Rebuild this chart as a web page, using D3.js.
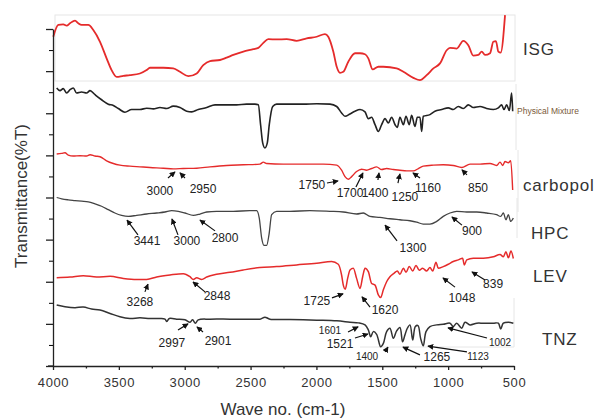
<!DOCTYPE html>
<html>
<head>
<meta charset="utf-8">
<script src="https://cdn.jsdelivr.net/npm/d3@7/dist/d3.min.js"></script>
<style>
  body { margin: 0; background: #fff; }
  svg { display: block; font-family: "Liberation Sans", Arial, sans-serif; }
</style>
</head>
<body>
<svg id="chart" width="595" height="418"></svg>
<script>
// ---- data: wavenumber (cm-1) and transmittance (arbitrary, stacked) ----
var isgWave = [3998,3960,3922,3896,3871,3833,3808,3783,3732,3694,3643,3593,3555,3517,3466,3416,3340,3289,3264,3162,3087,3036,2973,2909,2859,2808,2732,2682,2631,2555,2479,2441,2403,2365,2302,2226,2150,2074,1998,1935,1910,1872,1846,1821,1796,1758,1707,1669,1631,1606,1573,1530,1492,1391,1340,1264,1214,1163,1112,1062,1011,986,935,885,847,809,771,745,720,682,657,637,619,601,568];
var isgT    = [97.7,101.2,101.4,101.0,101.7,102.5,101.7,101.2,101.2,99.7,96.2,91.3,87.8,85.8,86.1,86.3,86.8,87.8,88.5,88.5,88.3,87.3,86.0,86.8,89.3,90.5,90.8,91.5,92.3,93.3,94.0,94.4,95.9,97.0,96.9,97.0,96.5,97.2,97.7,98.5,97.7,93.3,88.8,87.0,87.3,90.3,92.8,92.8,92.5,91.3,88.0,88.8,88.8,88.3,87.3,85.5,84.8,86.3,88.3,89.8,93.7,94.4,94.2,96.5,95.2,92.1,92.3,93.3,92.3,92.8,96.2,96.4,93.3,93.0,104.1];

var pmWave = [3972,3947,3922,3896,3871,3846,3821,3783,3745,3719,3681,3631,3580,3542,3504,3454,3403,3340,3289,3238,3188,3137,3087,3036,2985,2947,2897,2833,2770,2682,2606,2530,2467,2441,2424,2408,2391,2373,2358,2332,2302,2201,2100,1998,1897,1846,1809,1783,1745,1707,1669,1631,1606,1581,1555,1530,1505,1479,1454,1429,1403,1386,1366,1340,1320,1295,1277,1252,1234,1214,1201,1189,1138,1100,1049,999,961,923,885,847,809,758,708,657,619,594,576,556,535,518,510];
var pmT    = [82.5,81.7,82.3,81.0,82.0,82.5,81.0,81.3,81.0,81.7,80.5,79.0,77.7,77.3,76.4,75.3,76.1,76.1,76.5,76.3,76.7,76.4,77.1,76.7,75.6,75.4,76.1,76.7,77.5,77.5,77.5,77.7,77.7,77.5,71.6,66.2,64.7,66.2,71.6,77.0,77.7,77.7,77.7,77.8,77.7,77.0,75.1,74.1,74.8,75.6,76.1,75.4,73.4,73.8,71.6,69.6,71.6,73.4,72.1,73.8,71.6,70.8,73.8,71.6,74.1,71.6,74.4,71.1,73.8,73.8,69.6,74.1,74.6,75.6,76.1,76.6,76.1,77.0,76.4,77.5,76.7,77.0,76.4,76.1,76.6,77.5,76.1,77.5,75.8,81.0,75.6];

var carbWave = [3972,3934,3909,3884,3846,3795,3745,3719,3681,3643,3593,3542,3492,3416,3340,3264,3162,3087,3011,2909,2808,2682,2555,2429,2403,2378,2251,2100,1948,1846,1809,1783,1758,1733,1695,1657,1619,1581,1543,1505,1467,1416,1366,1315,1264,1226,1189,1112,1037,961,897,834,758,682,632,606,586,568,543,525,510];
var carbT    = [62.9,63.1,63.3,62.6,62.3,62.4,62.3,62.7,62.3,62.1,60.9,60.1,59.6,59.3,59.1,58.9,58.7,58.5,58.6,58.7,59.1,59.5,59.7,59.9,60.5,60.1,59.9,59.9,59.9,59.6,58.1,56.2,55.4,56.2,57.7,58.4,58.1,58.6,59.1,58.3,58.6,58.3,58.1,57.9,57.9,58.6,59.3,59.6,59.7,59.5,58.9,59.9,59.9,60.1,59.5,60.5,59.5,60.7,60.3,60.9,52.2];

var hpcWave = [3972,3934,3884,3833,3783,3732,3681,3631,3580,3530,3479,3428,3365,3289,3213,3150,3099,3049,2998,2935,2884,2833,2758,2631,2505,2454,2434,2416,2398,2378,2360,2340,2302,2201,2049,1897,1796,1695,1644,1594,1518,1442,1366,1290,1239,1189,1138,1087,1037,986,935,859,783,708,632,601,581,561,543,525,505];
var hpcT    = [50.0,49.6,49.3,49.1,48.9,48.7,48.1,47.4,46.4,45.4,44.7,44.4,44.7,45.1,45.4,45.7,46.1,45.9,45.4,44.7,45.1,45.7,45.9,45.9,46.1,46.1,43.9,38.0,35.8,35.8,39.0,44.9,45.9,45.9,46.1,45.9,45.7,45.1,45.4,44.4,44.1,43.7,43.4,43.1,42.7,42.1,42.1,42.9,44.4,45.4,45.9,45.7,45.7,45.4,44.9,44.4,45.4,43.4,44.9,42.9,43.9];

var levWave = [3972,3871,3770,3669,3567,3466,3365,3289,3213,3112,3011,2960,2935,2909,2871,2833,2758,2656,2555,2429,2302,2150,1998,1884,1834,1809,1796,1781,1763,1745,1720,1695,1669,1649,1631,1606,1581,1555,1530,1512,1492,1467,1442,1411,1386,1366,1340,1320,1295,1269,1244,1219,1194,1163,1138,1117,1092,1075,1037,999,961,923,890,877,859,809,733,657,606,581,561,543,523,505];
var levT    = [26.2,26.4,26.8,26.4,26.6,26.0,25.7,25.7,26.4,27.0,27.4,26.5,25.7,26.2,25.7,26.4,27.2,27.8,28.5,29.2,29.5,30.0,30.5,31.0,30.2,27.0,24.0,22.8,26.0,28.5,29.0,26.0,23.0,26.5,29.0,28.0,24.5,24.0,21.1,20.3,22.6,25.0,26.5,27.5,28.2,27.2,29.0,27.8,29.5,28.2,29.8,28.4,29.0,28.2,29.2,28.2,30.8,29.0,29.5,30.2,31.0,31.5,32.0,30.0,31.5,32.0,32.0,32.4,33.1,32.4,33.9,32.1,34.1,31.9];

var tnzWave = [3972,3909,3833,3770,3707,3643,3567,3492,3416,3340,3264,3188,3150,3137,3117,3061,2998,2960,2940,2919,2897,2808,2656,2505,2429,2391,2353,2201,1998,1846,1745,1682,1631,1606,1588,1568,1543,1512,1492,1467,1442,1416,1391,1366,1346,1328,1310,1290,1269,1249,1229,1209,1189,1168,1138,1087,1037,986,961,935,897,872,834,783,733,657,619,601,581,543,505];
var tnzT    = [18.1,17.6,17.3,17.5,16.9,16.6,15.6,14.6,14.1,14.3,14.1,14.1,13.9,13.2,14.1,13.9,13.7,13.0,13.7,12.7,13.7,13.9,13.9,13.9,13.9,14.5,13.9,13.8,13.6,13.4,13.0,12.8,12.2,10.7,8.7,10.2,9.4,5.7,6.7,10.2,11.2,8.2,10.4,11.4,7.2,9.2,11.2,12.2,7.7,11.7,12.0,8.2,6.0,10.2,11.7,12.2,12.4,12.7,11.7,12.7,11.2,13.0,12.2,12.7,12.7,12.7,12.7,11.0,12.7,13.0,12.7];

var seriesNames = ["ISG", "Physical Mixture", "carbopol", "HPC", "LEV", "TNZ"];

// peak labels: [text, label wave, label T, tail wave, tail T, tip wave, tip T]
var carbPeaks = [
  ["3000", 3188, 51.9, 3127, 55.8, 3074, 57.6],
  ["2950", 2861, 52.5, 2998, 55.8, 3036, 57.3],
  ["1750", 2034, 53.7, 1920, 54.3, 1836, 54.9],
  ["1700", 1745, 51.3, 1700, 53.1, 1647, 57.3],
  ["1400", 1555, 51.3, 1533, 55.2, 1525, 57.3],
  ["1250", 1328, 50.1, 1381, 54.3, 1366, 57.0],
  ["1160", 1153, 52.8, 1214, 55.8, 1267, 57.3],
  ["850",  773, 52.8,  857, 56.7,  895, 58.2]
];
var hpcPeaks = [
  ["3441", 3286, 37.1, 3355, 38.9, 3438, 43.3],
  ["3000", 2983, 37.1, 3051, 38.9, 3097, 43.6],
  ["2800", 2694, 38.0, 2770, 40.1, 2884, 43.3],
  ["1300", 1267, 35.0, 1388, 37.1, 1479, 41.8],
  ["900",   819, 40.1,  895, 41.8,  971, 44.2]
];
var levPeaks = [
  ["3268", 3340, 19.0, 3302, 22.0, 3279, 24.3],
  ["2848", 2755, 20.8, 2846, 22.0, 2937, 24.9],
  ["1725", 1996, 19.3, 1882, 20.2, 1798, 21.4],
  ["1620", 1479, 16.6, 1593, 17.5, 1654, 20.5],
  ["1048",  895, 20.2,  948, 23.4, 1039, 26.1],
  ["839",   659, 24.3,  720, 25.5,  819, 27.9]
];
var tnzPeaks = [
  ["2997", 3097, 6.8, 3051, 10.7, 2975, 12.5],
  ["2901", 2747, 7.4, 2861, 10.1, 2907, 11.6],
  ["1601", 1897, 10.4, 1760, 10.1, 1684, 11.6],
  ["1521", 1821, 6.5, 1707, 8.3, 1609, 9.5],
  ["1400", 1616, 2.7, 1479, 4.2, 1457, 5.6],
  ["1265", 1085, 2.7, 1214, 3.3, 1343, 5.6],
  ["1123",  773, 2.7,  857, 4.2, 1153, 5.9],
  ["1002",  606, 7.1,  705, 8.3, 1001, 11.3]
];
var tnzSmall = ["1601", "1400", "1123", "1002"];

var xMajor = [4000, 3500, 3000, 2500, 2000, 1500, 1000, 500];
var xMinor = [3750, 3250, 2750, 2250, 1750, 1250, 750];

// ---- layout ----
var svg = d3.select("#chart");
var x = d3.scaleLinear().domain([4000, 500]).range([53, 514]);
var y = d3.scaleLinear().domain([0, 100]).range([366, 29]);

var red = "#e52b2b";
var series = [
  { name: seriesNames[0], wave: isgWave,  t: isgT,  color: red,    w: 1.8 },
  { name: seriesNames[1], wave: pmWave,   t: pmT,   color: "#222", w: 1.6 },
  { name: seriesNames[2], wave: carbWave, t: carbT, color: red,    w: 1.4 },
  { name: seriesNames[3], wave: hpcWave,  t: hpcT,  color: "#444", w: 1.3 },
  { name: seriesNames[4], wave: levWave,  t: levT,  color: red,    w: 1.5 },
  { name: seriesNames[5], wave: tnzWave,  t: tnzT,  color: "#333", w: 1.5, smooth: true }
];

// faint panel frames left over from the stacked plots
var faint = svg.append("g").attr("stroke", "#e6e6e6").attr("fill", "none");
faint.append("rect").attr("x", 55).attr("y", 15).attr("width", 460).attr("height", 66);
faint.append("line").attr("x1", 516).attr("x2", 516).attr("y1", 84).attr("y2", 150);
faint.append("line").attr("x1", 518).attr("x2", 518).attr("y1", 150).attr("y2", 212);
faint.append("line").attr("x1", 517).attr("x2", 517).attr("y1", 198).attr("y2", 238);
faint.append("line").attr("x1", 514).attr("x2", 514).attr("y1", 298).attr("y2", 347);
faint.append("line").attr("x1", 360).attr("x2", 514).attr("y1", 347).attr("y2", 347);

// spectra
var line = d3.line()
  .x(function (d) { return x(d[0]); })
  .y(function (d) { return y(d[1]); })
  .curve(d3.curveMonotoneX);
var smoothLine = d3.line()
  .x(function (d) { return x(d[0]); })
  .y(function (d) { return y(d[1]); })
  .curve(d3.curveCatmullRom.alpha(0.5));

series.forEach(function (s) {
  var pts = s.wave.map(function (w, i) { return [w, s.t[i]]; });
  svg.append("path")
    .datum(pts)
    .attr("d", s.smooth ? smoothLine : line)
    .attr("fill", "none")
    .attr("stroke", s.color)
    .attr("stroke-width", s.w)
    .attr("stroke-linejoin", "round");
});

// axes
var yMajor = d3.range(0, 100.01, 12.5);
var yMinor = d3.range(6.25, 100, 12.5);

svg.append("g").attr("transform", "translate(53,0)")
  .call(d3.axisLeft(y).tickValues(yMinor).tickSize(4).tickSizeOuter(0).tickFormat(""))
  .call(function (g) { g.select(".domain").remove(); });
svg.append("g").attr("transform", "translate(53,0)")
  .call(d3.axisLeft(y).tickValues(yMajor).tickSize(7).tickSizeOuter(0).tickFormat(""))
  .call(function (g) { g.selectAll("line, path").attr("stroke", "#222").attr("stroke-width", 1.3); });

svg.append("g").attr("transform", "translate(0,366)")
  .call(d3.axisBottom(x).tickValues(xMinor).tickSize(2.5).tickSizeOuter(0).tickFormat(""))
  .call(function (g) { g.select(".domain").remove(); g.selectAll("line").attr("stroke", "#222").attr("stroke-width", 1.3); });
var xg = svg.append("g").attr("transform", "translate(0,366)")
  .call(d3.axisBottom(x).tickValues(xMajor).tickSize(4).tickSizeOuter(0).tickFormat(d3.format("d")));
xg.selectAll("line, path").attr("stroke", "#222").attr("stroke-width", 1.3);
xg.selectAll("text").attr("y", 12).attr("font-size", 13).attr("fill", "#333")
  .attr("font-family", "Liberation Sans, Arial, sans-serif").attr("letter-spacing", 0.6);
svg.append("line").attr("x1", 48).attr("x2", 53).attr("y1", 366).attr("y2", 366)
  .attr("stroke", "#222").attr("stroke-width", 1.3);

// axis titles
svg.append("text").attr("x", 283).attr("y", 415).attr("text-anchor", "middle")
  .attr("font-size", 17).attr("fill", "#333").text("Wave no. (cm-1)");
svg.append("text").attr("transform", "translate(27,196) rotate(-90)")
  .attr("text-anchor", "middle").attr("font-size", 17).attr("fill", "#333")
  .text("Transmittance(%T)");

// series names
var nameSpots = [[523, 49], [517, 111], [523, 185], [531, 233], [533, 276], [542, 339]];
series.forEach(function (s, i) {
  var small = i === 1;
  svg.append("text")
    .attr("x", nameSpots[i][0]).attr("y", nameSpots[i][1])
    .attr("dy", "0.35em")
    .attr("font-size", small ? 8.5 : 17)
    .attr("fill", small ? "#7a5a3a" : "#333")
    .attr("letter-spacing", small ? 0 : 0.8)
    .text(s.name);
});

// arrows
svg.append("defs").append("marker")
  .attr("id", "arr").attr("viewBox", "0 0 8 8")
  .attr("refX", 7).attr("refY", 4)
  .attr("markerWidth", 6).attr("markerHeight", 6)
  .attr("markerUnits", "userSpaceOnUse")
  .attr("orient", "auto")
  .append("path").attr("d", "M0,0 L8,4 L0,8 z").attr("fill", "#111");

function drawPeaks(list, smallOnes) {
  list.forEach(function (p) {
    svg.append("line")
      .attr("x1", x(p[3])).attr("y1", y(p[4]))
      .attr("x2", x(p[5])).attr("y2", y(p[6]))
      .attr("stroke", "#111").attr("stroke-width", 1.2)
      .attr("marker-end", "url(#arr)");
    var small = smallOnes.indexOf(p[0]) >= 0;
    svg.append("text")
      .attr("x", x(p[1])).attr("y", y(p[2]))
      .attr("dy", "0.35em").attr("text-anchor", "middle")
      .attr("font-size", small ? 10 : 12).attr("fill", "#222")
      .text(p[0]);
  });
}
drawPeaks(carbPeaks, []);
drawPeaks(hpcPeaks, []);
drawPeaks(levPeaks, []);
drawPeaks(tnzPeaks, tnzSmall);
</script>
</body>
</html>
